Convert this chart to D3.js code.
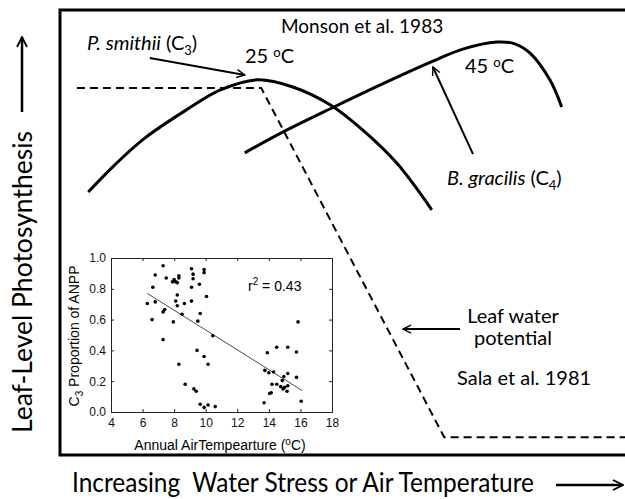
<!DOCTYPE html>
<html>
<head>
<meta charset="utf-8">
<script src="https://cdn.jsdelivr.net/npm/d3@7"></script>
<style>
  body { margin: 0; background: #fff; }
  svg { display: block; }
</style>
</head>
<body>
<div id="chart"></div>
<script>
// Main conceptual curves (arbitrary 0-100 units on both axes)
const c3X = [5.0, 9.7, 15.0, 22.3, 28.3, 34.9, 41.2, 47.8, 53.6, 59.6, 65.8];
const c3Y = [59.1, 65.2, 71.2, 77.5, 82.0, 84.3, 82.7, 78.7, 73.0, 65.6, 55.1];

const c4X = [32.7, 39.5, 48.5, 56.6, 66.0, 71.3, 77.3, 80.5, 83.2, 86.7, 88.8];
const c4Y = [67.9, 72.6, 78.2, 83.1, 88.5, 91.2, 92.8, 92.4, 90.3, 84.3, 78.2];

const waterX = [3.0, 35.6, 68.0, 101];
const waterY = [82.5, 82.5, 4.0, 4.0];

// Inset: annual air temperature vs C3 proportion of ANPP
const insetTemp = [7.3, 6.8, 7.5, 6.65, 7.9, 8.0, 8.1, 8.2, 8.3, 8.3,
    9.1, 9.2, 9.2, 9.9, 9.9, 9.6, 9.1, 8.2, 8.1, 8.2, 8.65, 9.1, 10.05,
    6.3, 6.8, 7.4, 7.3, 6.6, 7.95, 8.5, 9.65, 9.5, 10.45, 7.3, 9.45, 9.9,
    8.3, 10.15, 8.7, 9.25, 9.4, 9.65, 9.9, 10.15, 10.6,
    15.85, 14.5, 13.9, 15.2, 15.75, 13.75, 14.0, 14.3, 14.95, 15.2, 15.75,
    14.2, 14.5, 14.85, 14.75, 14.9, 15.0, 15.2, 15.15, 14.15, 14.05, 13.7, 16.05];
const insetC3 = [0.95, 0.89, 0.87, 0.81, 0.845, 0.86, 0.845, 0.84, 0.885, 0.87,
    0.93, 0.895, 0.865, 0.925, 0.905, 0.83, 0.81, 0.76, 0.72, 0.69, 0.705, 0.72, 0.75,
    0.705, 0.715, 0.665, 0.65, 0.6, 0.585, 0.635, 0.64, 0.59, 0.495, 0.47, 0.40, 0.36,
    0.31, 0.31, 0.18, 0.15, 0.135, 0.05, 0.03, 0.045, 0.035,
    0.585, 0.42, 0.385, 0.42, 0.39, 0.27, 0.255, 0.26, 0.23, 0.25, 0.225,
    0.18, 0.18, 0.205, 0.165, 0.15, 0.16, 0.17, 0.135, 0.125, 0.12, 0.06, 0.07];
const fitTemp = [6.3, 16.1];
const fitC3 = [0.77, 0.14];
const insetXTicks = [4, 6, 8, 10, 12, 14, 16, 18];
const insetYTicks = [0, 0.2, 0.4, 0.6, 0.8, 1.0];

const W = 625, H = 499;
const mainFont = 'Lato, "Open Sans", sans-serif';
const insetFont = '"Liberation Sans", Arial, sans-serif';

const svg = d3.select('#chart')
    .append('svg')
    .attr('width', W)
    .attr('height', H);

svg.append('defs').append('marker')
    .attr('id', 'head')
    .attr('viewBox', '0 0 10 10')
    .attr('refX', 9)
    .attr('refY', 5)
    .attr('markerWidth', 5)
    .attr('markerHeight', 5)
    .attr('markerUnits', 'strokeWidth')
    .attr('orient', 'auto')
    .append('path')
    .attr('d', 'M1,1 L9,5 L1,9')
    .attr('fill', 'none')
    .attr('stroke', '#000')
    .attr('stroke-width', 1.4);

// Main scales
var x = d3.scaleLinear().domain([0, 100]).range([60, 625]);
var y = d3.scaleLinear().domain([0, 100]).range([455, 10]);

// Frame (open on the right)
svg.append('path')
    .attr('d', 'M632,10 H60 V455 H632')
    .attr('fill', 'none')
    .attr('stroke', '#000')
    .attr('stroke-width', 3);

var line = d3.line()
    .x(d => x(d[0]))
    .y(d => y(d[1]))
    .curve(d3.curveCatmullRom.alpha(0.5));

svg.append('path')
    .datum(d3.zip(c3X, c3Y))
    .attr('d', line)
    .attr('fill', 'none')
    .attr('stroke', '#000')
    .attr('stroke-width', 3);

svg.append('path')
    .datum(d3.zip(c4X, c4Y))
    .attr('d', line)
    .attr('fill', 'none')
    .attr('stroke', '#000')
    .attr('stroke-width', 3);

svg.append('path')
    .datum(d3.zip(waterX, waterY))
    .attr('d', line.curve(d3.curveLinear))
    .attr('fill', 'none')
    .attr('stroke', '#000')
    .attr('stroke-width', 2)
    .attr('stroke-dasharray', '8,5');

// Annotation arrows
const arrows = [
    { x1: 15.9, y1: 89.2, x2: 32.7, y2: 85.4 },
    { x1: 73.1, y1: 67.6, x2: 66.0, y2: 87.2 },
    { x1: 70.8, y1: 28.3, x2: 60.7, y2: 28.3 }
];
svg.selectAll('.arrow')
    .data(arrows)
    .enter()
    .append('line')
    .attr('class', 'arrow')
    .attr('x1', d => x(d.x1)).attr('y1', d => y(d.y1))
    .attr('x2', d => x(d.x2)).attr('y2', d => y(d.y2))
    .attr('stroke', '#000')
    .attr('stroke-width', 2)
    .attr('marker-end', 'url(#head)');

// Axis title arrows
svg.append('line')
    .attr('x1', 22).attr('y1', 112).attr('x2', 22).attr('y2', 37)
    .attr('stroke', '#000').attr('stroke-width', 2.5)
    .attr('marker-end', 'url(#head)');
svg.append('line')
    .attr('x1', 556).attr('y1', 485).attr('x2', 623).attr('y2', 485)
    .attr('stroke', '#000').attr('stroke-width', 2.5)
    .attr('marker-end', 'url(#head)');

// Labels
function label(px, py, size) {
    return svg.append('text')
        .attr('x', px).attr('y', py)
        .style('font-family', mainFont)
        .style('font-size', size + 'px')
        .attr('fill', '#000');
}

label(281, 33, 19).text('Monson et al. 1983');

var ps = label(87, 50, 20);
ps.append('tspan').style('font-style', 'italic').text('P. smithii');
ps.append('tspan').text(' (C');
ps.append('tspan').attr('dy', 5).style('font-size', '13px').text('3');
ps.append('tspan').attr('dy', -5).text(')');

var t25 = label(245, 63, 20);
t25.append('tspan').text('25 ');
t25.append('tspan').attr('dy', -6).style('font-size', '13px').text('o');
t25.append('tspan').attr('dy', 6).text('C');

var t45 = label(465, 73, 20);
t45.append('tspan').text('45 ');
t45.append('tspan').attr('dy', -6).style('font-size', '13px').text('o');
t45.append('tspan').attr('dy', 6).text('C');

var bg = label(447, 185, 20);
bg.append('tspan').style('font-style', 'italic').text('B. gracilis');
bg.append('tspan').text(' (C');
bg.append('tspan').attr('dy', 5).style('font-size', '13px').text('4');
bg.append('tspan').attr('dy', -5).text(')');

label(513, 323, 20).attr('text-anchor', 'middle').text('Leaf water');
label(513, 345, 20).attr('text-anchor', 'middle').text('potential');
label(457, 385, 20).text('Sala et al. 1981');

label(72, 492, 26)
    .attr('textLength', 462)
    .attr('lengthAdjust', 'spacingAndGlyphs')
    .style('white-space', 'pre')
    .text('Increasing  Water Stress or Air Temperature');

svg.append('text')
    .attr('transform', 'translate(32,433) rotate(-90)')
    .style('font-family', mainFont)
    .style('font-size', '27px')
    .attr('textLength', 302)
    .attr('lengthAdjust', 'spacingAndGlyphs')
    .text('Leaf-Level Photosynthesis');

// Inset scatter plot
var ix = d3.scaleLinear().domain([4, 18]).range([111, 332]);
var iy = d3.scaleLinear().domain([0, 1]).range([412, 258]);

var inset = svg.append('g').style('font-family', insetFont);

inset.append('g')
    .attr('transform', 'translate(0,' + iy(0) + ')')
    .call(d3.axisBottom(ix).tickValues(insetXTicks).tickSize(-3).tickPadding(6).tickFormat(d3.format('d')));
inset.append('g')
    .attr('transform', 'translate(' + ix(4) + ',0)')
    .call(d3.axisLeft(iy).tickValues(insetYTicks).tickSize(-3).tickPadding(5).tickFormat(d3.format('.1f')));
inset.append('g')
    .attr('transform', 'translate(0,' + iy(1) + ')')
    .call(d3.axisTop(ix).tickValues(insetXTicks).tickSize(-3).tickFormat(''));
inset.append('g')
    .attr('transform', 'translate(' + ix(18) + ',0)')
    .call(d3.axisRight(iy).tickValues(insetYTicks).tickSize(-3).tickFormat(''));

inset.selectAll('.domain').attr('stroke', '#222').attr('stroke-width', 1);
inset.selectAll('.tick line').attr('stroke', '#222');
inset.selectAll('.tick text')
    .style('font-family', insetFont)
    .style('font-size', '12px')
    .attr('fill', '#111');

inset.append('line')
    .attr('x1', ix(fitTemp[0])).attr('y1', iy(fitC3[0]))
    .attr('x2', ix(fitTemp[1])).attr('y2', iy(fitC3[1]))
    .attr('stroke', '#333')
    .attr('stroke-width', 0.9);

inset.selectAll('circle')
    .data(d3.zip(insetTemp, insetC3))
    .enter()
    .append('circle')
    .attr('cx', d => ix(d[0]))
    .attr('cy', d => iy(d[1]))
    .attr('r', 1.8)
    .attr('fill', '#000');

var r2 = inset.append('text')
    .attr('x', 248).attr('y', 291)
    .style('font-size', '14px');
r2.append('tspan').text('r');
r2.append('tspan').attr('dy', -6).style('font-size', '10px').text('2');
r2.append('tspan').attr('dy', 6).text(' = 0.43');

var iyl = inset.append('text')
    .attr('transform', 'translate(79,336) rotate(-90)')
    .attr('text-anchor', 'middle')
    .style('font-size', '14px');
iyl.append('tspan').text('C');
iyl.append('tspan').attr('dy', 4).style('font-size', '10px').text('3');
iyl.append('tspan').attr('dy', -4).text(' Proportion of ANPP');

var ixl = inset.append('text')
    .attr('x', 220).attr('y', 450)
    .attr('text-anchor', 'middle')
    .style('font-size', '14px');
ixl.append('tspan').text('Annual AirTempearture (');
ixl.append('tspan').attr('dy', -5).style('font-size', '10px').text('o');
ixl.append('tspan').attr('dy', 5).text('C)');
</script>
</body>
</html>
